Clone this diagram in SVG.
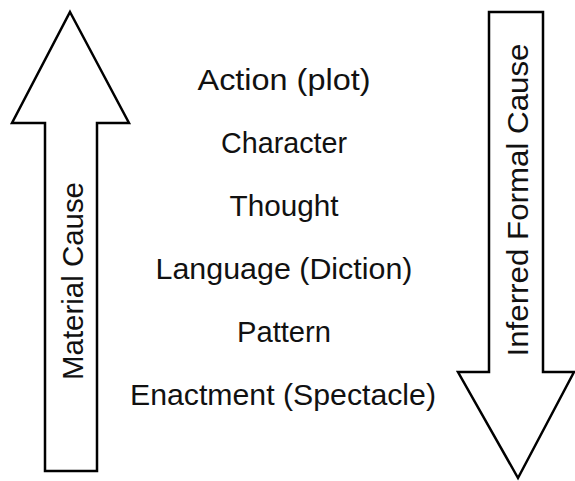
<svg xmlns="http://www.w3.org/2000/svg" width="575" height="481" viewBox="0 0 575 481">
<style>
.arrow{fill:#fff;stroke:#000;stroke-width:2.5;stroke-linejoin:miter}
.t{font-family:"Liberation Sans",Arial,sans-serif;font-size:30px;fill:#111;text-anchor:middle}
</style>
<rect width="575" height="481" fill="#fff"/>
<g id="material-cause">
<path class="arrow" d="M70,12 L129,123 L97,123 L97,471 L45,471 L45,123 L12,123 Z"/>
<text class="t" transform="translate(83,281) rotate(-90)" textLength="198" lengthAdjust="spacingAndGlyphs">Material Cause</text>
</g>
<g id="formal-cause">
<path class="arrow" d="M489,12 L543,12 L543,372 L574,372 L518,478 L458,372 L489,372 Z"/>
<text class="t" transform="translate(528,200) rotate(-90)" textLength="313" lengthAdjust="spacingAndGlyphs">Inferred Formal Cause</text>
</g>
<g id="levels">
<text class="t" x="284" y="90" textLength="173" lengthAdjust="spacingAndGlyphs">Action (plot)</text>
<text class="t" x="284" y="153" textLength="126" lengthAdjust="spacingAndGlyphs">Character</text>
<text class="t" x="284" y="216" textLength="109" lengthAdjust="spacingAndGlyphs">Thought</text>
<text class="t" x="284" y="279" textLength="257" lengthAdjust="spacingAndGlyphs">Language (Diction)</text>
<text class="t" x="284" y="342" textLength="94" lengthAdjust="spacingAndGlyphs">Pattern</text>
<text class="t" x="283" y="405" textLength="306" lengthAdjust="spacingAndGlyphs">Enactment (Spectacle)</text>
</g>
</svg>
